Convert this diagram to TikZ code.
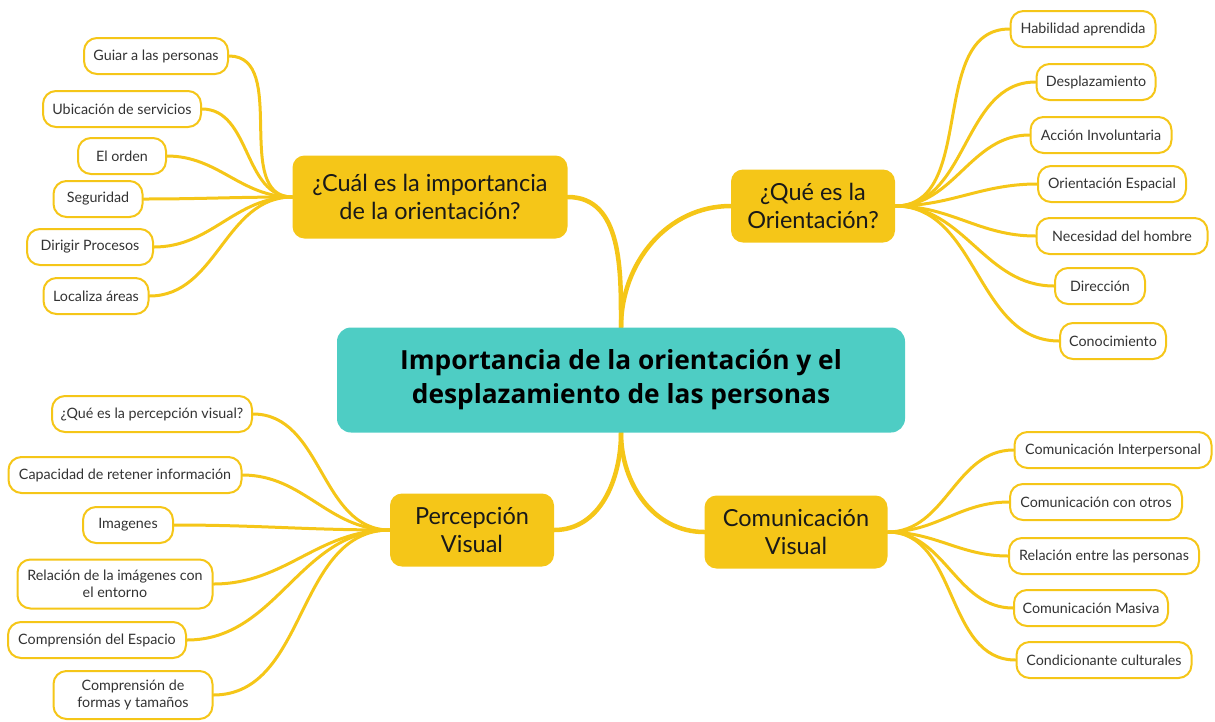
\documentclass[tikz,border=0pt]{standalone}
\usepackage{fontspec}
\setmainfont{Lato}
\newfontfamily\titlefont{Open Sans}
\usetikzlibrary{backgrounds}
\definecolor{myyellow}{RGB}{245,198,24}
\definecolor{myteal}{RGB}{78,205,196}
\definecolor{leaftext}{RGB}{51,51,51}
\definecolor{branchtext}{RGB}{25,25,25}
\tikzset{
  central/.style={fill=myteal, rounded corners=14pt, minimum width=568pt, minimum height=105pt, inner sep=0pt, align=center, font=\titlefont\bfseries\fontsize{26.3}{34}\selectfont, text=black},
  branch/.style={fill=myyellow, rounded corners=12pt, minimum height=73pt, inner sep=0pt, align=center, font=\fontsize{23.5}{28}\selectfont, text=branchtext},
  leaf/.style={draw=myyellow, line width=2pt, fill=white, rounded corners=13pt, minimum height=36pt, inner sep=0pt, align=center, font=\fontsize{14.3}{17}\selectfont, text=leaftext},
  mainlink/.style={draw=myyellow, line width=4.5pt, line cap=round},
  leaflink/.style={draw=myyellow, line width=3pt, line cap=round},
}
\begin{document}
\begin{tikzpicture}[x=1pt,y=-1pt]
\useasboundingbox (0,0) rectangle (1215,721);
% central
\node[central] (c) at (621,380) {Importancia de la orientación y el\\desplazamiento de las personas};
% branches
\node[branch, minimum width=275pt, minimum height=83pt] (b1) at (430,197) {¿Cuál es la importancia\\de la orientación?};
\node[branch, minimum width=164pt] (b2) at (813,206) {¿Qué es la\\Orientación?};
\node[branch, minimum width=164pt] (b3) at (472,530) {Percepción\\Visual};
\node[branch, minimum width=183pt] (b4) at (796,532) {Comunicación\\Visual};
% leaves of b1
\node[leaf, minimum width=144pt] (l11) at (156,56) {Guiar a las personas};
\node[leaf, minimum width=158pt] (l12) at (122,109) {Ubicación de servicios};
\node[leaf, minimum width=88pt] (l13) at (122,156) {El orden};
\node[leaf, minimum width=89pt] (l14) at (98,199) {Seguridad};
\node[leaf, minimum width=126pt] (l15) at (90,247) {Dirigir Procesos};
\node[leaf, minimum width=105pt] (l16) at (96,296) {Localiza áreas};
% leaves of b2
\node[leaf, minimum width=145pt] (l21) at (1083,29) {Habilidad aprendida};
\node[leaf, minimum width=119pt] (l22) at (1096,82) {Desplazamiento};
\node[leaf, minimum width=141pt] (l23) at (1101,135) {Acción Involuntaria};
\node[leaf, minimum width=148pt] (l24) at (1112,184) {Orientación Espacial};
\node[leaf, minimum width=171pt] (l25) at (1122,236) {Necesidad del hombre};
\node[leaf, minimum width=90pt] (l26) at (1100,286) {Dirección};
\node[leaf, minimum width=106pt] (l27) at (1113,341) {Conocimiento};
% leaves of b3
\node[leaf, minimum width=200pt] (l31) at (152,414) {¿Qué es la percepción visual?};
\node[leaf, minimum width=233pt] (l32) at (125,475) {Capacidad de retener información};
\node[leaf, minimum width=90pt] (l33) at (128,525) {Imagenes};
\node[leaf, minimum width=195pt, minimum height=49pt] (l34) at (115,584) {Relación de la imágenes con\\el entorno};
\node[leaf, minimum width=178pt] (l35) at (97,640) {Comprensión del Espacio};
\node[leaf, minimum width=159pt, minimum height=48pt] (l36) at (133,695) {Comprensión de\\formas y tamaños};
% leaves of b4
\node[leaf, minimum width=197pt] (l41) at (1113,450) {Comunicación Interpersonal};
\node[leaf, minimum width=172pt] (l42) at (1096,502) {Comunicación con otros};
\node[leaf, minimum width=190pt] (l43) at (1104,556) {Relación entre las personas};
\node[leaf, minimum width=154pt] (l44) at (1091,608) {Comunicación Masiva};
\node[leaf, minimum width=175pt] (l45) at (1104,660) {Condicionante culturales};
\begin{scope}[on background layer]
\draw[mainlink] (c.north) to[out=90,in=0] (b1.east);
\draw[mainlink] (c.north) to[out=90,in=180] (b2.west);
\draw[mainlink] (c.south) to[out=-90,in=0] (b3.east);
\draw[mainlink] (c.south) to[out=-90,in=180] (b4.west);
\foreach \l in {l11,l12,l13,l14,l15,l16}
  \draw[leaflink] (b1.west) to[out=180,in=0] (\l.east);
\foreach \l in {l21,l22,l23,l24,l25,l26,l27}
  \draw[leaflink] (b2.east) to[out=0,in=180] (\l.west);
\foreach \l in {l31,l32,l33,l34,l35,l36}
  \draw[leaflink] (b3.west) to[out=180,in=0] (\l.east);
\foreach \l in {l41,l42,l43,l44,l45}
  \draw[leaflink] (b4.east) to[out=0,in=180] (\l.west);
\end{scope}
\end{tikzpicture}
\end{document}
